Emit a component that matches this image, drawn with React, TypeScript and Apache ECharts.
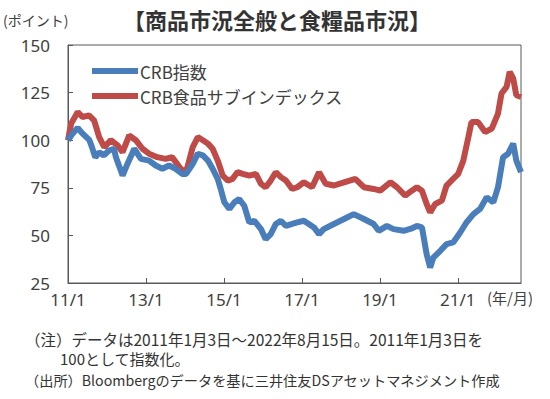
import React, { useEffect, useRef } from "react";
import * as echarts from "echarts";

// CRB指数 (time in decimal years, value)
const crbTimes = [
  2011.0, 2011.1, 2011.25, 2011.35, 2011.45, 2011.55, 2011.62, 2011.7, 2011.8, 2011.92,
  2012.05, 2012.18, 2012.23, 2012.32, 2012.4, 2012.53, 2012.7, 2012.87, 2013.08, 2013.25,
  2013.42, 2013.59, 2013.76, 2013.93, 2014.03, 2014.2, 2014.33, 2014.46, 2014.59, 2014.71,
  2014.84, 2014.93, 2015.01, 2015.14, 2015.27, 2015.39, 2015.52, 2015.65, 2015.78, 2015.95,
  2016.07, 2016.2, 2016.33, 2016.46, 2016.59, 2016.75, 2016.88, 2017.05, 2017.31, 2017.44,
  2017.56, 2017.82, 2018.08, 2018.33, 2018.59, 2018.84, 2018.97, 2019.18, 2019.35, 2019.61,
  2019.8, 2019.95, 2020.08, 2020.2, 2020.29, 2020.37, 2020.55, 2020.71, 2020.88, 2021.06,
  2021.22, 2021.4, 2021.57, 2021.74, 2021.91, 2022.03, 2022.16, 2022.29, 2022.42, 2022.5,
  2022.62,
];
const crbValues = [
  100, 103, 106.5, 104, 102, 100, 96, 91, 93.7, 92,
  94.6, 95.5, 91, 86, 81.4, 87.8, 95.5, 90.2, 89.3, 86.7,
  85, 86.7, 85, 82.3, 82.3, 87.6, 92.9, 92, 89.3, 85,
  79.7, 73.5, 67.4, 63.9, 67.4, 69.1, 65.6, 56.8, 57.7, 53.3,
  48, 50.7, 56, 57.7, 55, 56, 56.8, 57.7, 54.2, 50.7,
  53.3, 56, 58.6, 61.2, 58.6, 56, 52.4, 55, 53.3, 52.4,
  53.5, 55, 54.2, 40.1, 33.1, 38.3, 41.9, 45.4, 46.3, 51.5,
  56.8, 61.2, 63.9, 70, 67.4, 75.3, 91.1, 92.9, 98.2, 89.3,
  83.2,
];

// CRB食品サブインデックス
const foodTimes = [
  2011.0, 2011.08, 2011.25, 2011.37, 2011.54, 2011.67, 2011.8, 2011.93, 2012.1, 2012.27,
  2012.4, 2012.57, 2012.74, 2012.91, 2013.08, 2013.29, 2013.5, 2013.67, 2013.89, 2014.03,
  2014.2, 2014.33, 2014.46, 2014.59, 2014.71, 2014.84, 2014.97, 2015.1, 2015.22, 2015.35,
  2015.48, 2015.65, 2015.82, 2015.95, 2016.07, 2016.2, 2016.33, 2016.46, 2016.59, 2016.75,
  2016.88, 2017.05, 2017.26, 2017.44, 2017.61, 2017.82, 2018.08, 2018.37, 2018.59, 2018.84,
  2019.01, 2019.27, 2019.44, 2019.65, 2019.82, 2019.95, 2020.08, 2020.2, 2020.29, 2020.42,
  2020.59, 2020.71, 2020.88, 2021.01, 2021.14, 2021.27, 2021.35, 2021.52, 2021.7, 2021.87,
  2022.03, 2022.12, 2022.25, 2022.33, 2022.42, 2022.5, 2022.62,
];
const foodValues = [
  100, 108.7, 114.8, 112.2, 113, 110.4, 101.6, 96.4, 100, 97.3,
  93.7, 102.5, 100, 95.5, 92.9, 91.1, 90.2, 91.1, 85, 83.2,
  96.4, 101.6, 100, 98.2, 95.5, 89.3, 81.4, 78.8, 79.7, 83.2,
  82.3, 81.4, 82.3, 77.1, 75.3, 78.8, 83.2, 80.6, 78.8, 74.4,
  75.3, 77.9, 75.3, 83.2, 77.1, 76.2, 77.9, 79.7, 75.3, 74.4,
  73.5, 77.9, 75.3, 70.9, 73.5, 75.3, 73.5, 66.5, 62.1, 66.5,
  68.3, 76.2, 79.7, 82.3, 89.3, 101.6, 109.5, 109.5, 104.3, 106.1,
  114, 124.5, 128, 135.9, 132.4, 123.6, 122.8,
];

const seriesNames = ["CRB指数", "CRB食品サブインデックス"];
const yTicks = { min: 25, max: 150, interval: 25 };
const xRange = { min: 2011, max: 2022.62, interval: 2 };

const titleText = "【商品市況全般と食糧品市況】";
const yUnit = "(ポイント)";
const xUnit = "(年/月)";
const noteLines = [
  "（注）データは2011年1月3日～2022年8月15日。2011年1月3日を",
  "100として指数化。",
  "（出所）Bloombergのデータを基に三井住友DSアセットマネジメント作成",
];

const FONT = '"Noto Sans CJK JP", "Noto Sans", sans-serif';
const NUMFONT = '"Noto Sans", "Noto Sans CJK JP", sans-serif';

export default function App() {
  const ref = useRef<HTMLDivElement>(null);
  useEffect(() => {
    if (!ref.current) return;
    const chart = echarts.init(ref.current, null, { renderer: "svg" });
    const pair = (t: number[], v: number[]) => t.map((x, i) => [x, v[i]]);
    chart.setOption({
      animation: false,
      backgroundColor: "#ffffff",
      textStyle: { fontFamily: FONT },
      grid: {
        left: 68,
        right: 29,
        top: 45,
        bottom: 116,
        show: true,
        borderColor: "#595959",
        borderWidth: 1,
      },
      legend: {
        orient: "vertical",
        left: 92,
        top: 62,
        itemWidth: 46,
        itemHeight: 6,
        itemGap: 7,
        icon: "rect",
        padding: 0,
        textStyle: { fontSize: 17, color: "#404040", fontFamily: FONT, lineHeight: 18, padding: [0, 0, 0, -3] },
        data: seriesNames,
      },
      xAxis: {
        type: "value",
        min: xRange.min,
        max: xRange.max,
        interval: xRange.interval,
        axisLine: { lineStyle: { color: "#595959", width: 1 } },
        axisTick: { inside: true, length: 5, lineStyle: { color: "#595959" } },
        splitLine: { show: false },
        axisLabel: {
          fontSize: 17,
          color: "#404040",
          fontFamily: NUMFONT,
          margin: 8,
          showMaxLabel: false,
          formatter: (v: number) =>
            Math.abs(v - Math.round(v)) < 1e-6 ? `${Math.round(v) % 100}/1` : "",
        },
      },
      yAxis: {
        type: "value",
        min: yTicks.min,
        max: yTicks.max,
        interval: yTicks.interval,
        axisLine: { show: true, lineStyle: { color: "#595959", width: 1 } },
        axisTick: { show: true, inside: true, length: 5, lineStyle: { color: "#595959" } },
        splitLine: { show: false },
        axisLabel: { fontSize: 17, color: "#404040", fontFamily: NUMFONT, margin: 18 },
      },
      title: {
        text: titleText,
        left: 272,
        top: 3,
        textAlign: "center",
        textStyle: { fontSize: 22, fontWeight: "bold", color: "#333333", fontFamily: FONT },
      },
      graphic: [
        {
          type: "text",
          left: 3,
          top: 13,
          style: { text: yUnit, fontSize: 14, fill: "#404040", fontFamily: FONT },
        },
        {
          type: "text",
          left: 487,
          top: 290,
          style: { text: xUnit, fontSize: 15, fill: "#404040", fontFamily: FONT },
        },
        {
          type: "text",
          left: 25,
          top: 331,
          style: { text: noteLines[0], fontSize: 15.5, fill: "#333333", fontFamily: FONT },
        },
        {
          type: "text",
          left: 60,
          top: 351,
          style: { text: noteLines[1], fontSize: 15, fill: "#333333", fontFamily: FONT },
        },
        {
          type: "text",
          left: 25,
          top: 373,
          style: { text: noteLines[2], fontSize: 14.2, fill: "#333333", fontFamily: FONT },
        },
      ],
      series: [
        {
          name: seriesNames[0],
          type: "line",
          data: pair(crbTimes, crbValues),
          showSymbol: false,
          symbol: "none",
          lineStyle: { color: "#4A7EBB", width: 6 },
          itemStyle: { color: "#4A7EBB" },
          z: 3,
        },
        {
          name: seriesNames[1],
          type: "line",
          data: pair(foodTimes, foodValues),
          showSymbol: false,
          symbol: "none",
          lineStyle: { color: "#BE4B48", width: 6 },
          itemStyle: { color: "#BE4B48" },
          z: 2,
        },
      ],
    });
    return () => chart.dispose();
  }, []);
  return (
    <div
      ref={ref}
      style={{ position: "fixed", left: 0, top: 0, width: 550, height: 399, background: "#fff" }}
    />
  );
}
